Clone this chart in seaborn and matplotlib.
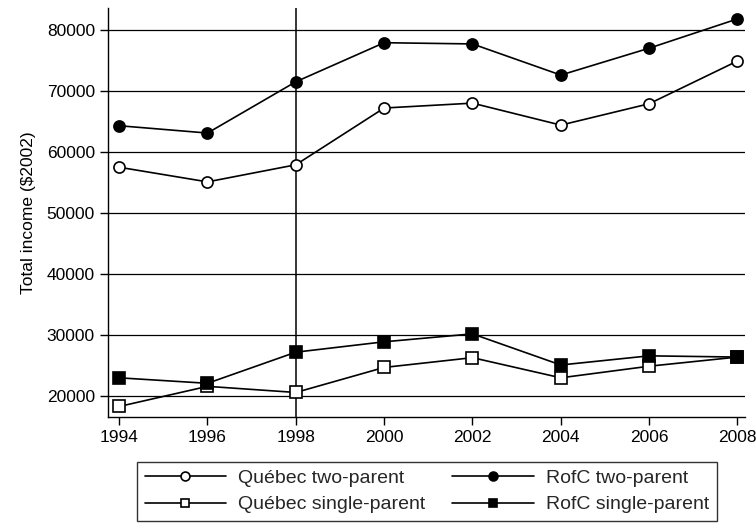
import numpy as np
import pandas as pd
import matplotlib
matplotlib.use("Agg")
import matplotlib.pyplot as plt
import seaborn as sns

# ------------------------------------------------------------------
#  DATA
# ------------------------------------------------------------------
years = [1994, 1996, 1998, 2000, 2002, 2004, 2006, 2008]
quebec_two    = [57500, 55100, 57900, 67200, 68000, 64400, 67900, 74900]
rofc_two      = [64300, 63100, 71500, 77900, 77700, 72600, 77000, 81800]
quebec_single = [18300, 21600, 20600, 24700, 26300, 23000, 24900, 26400]
rofc_single   = [23000, 22100, 27200, 28900, 30200, 25100, 26600, 26400]
y_ticks = [20000, 30000, 40000, 50000, 60000, 70000, 80000]

# ------------------------------------------------------------------
#  STYLE
# ------------------------------------------------------------------
sns.set_theme(style="white")
plt.rcParams["font.family"] = ["Liberation Sans", "DejaVu Sans"]
FS = 12.5

# order chosen so the 2-column legend reads row by row like the original
series = [
    ("Québec two-parent",    quebec_two,    "o", "white", 8),
    ("Québec single-parent", quebec_single, "s", "white", 8),
    ("RofC two-parent",      rofc_two,      "o", "black", 8),
    ("RofC single-parent",   rofc_single,   "s", "black", 8),
]

fig, ax = plt.subplots(figsize=(7.56, 5.28), dpi=100)
fig.subplots_adjust(left=0.143, right=0.986, top=0.985, bottom=0.21)

for y in y_ticks:
    ax.axhline(y, color="black", lw=0.9, zorder=0)
ax.axvline(1998, color="black", lw=1.1, zorder=1)

for label, vals, mk, face, ms in series:
    df = pd.DataFrame({"year": years, "income": vals})
    sns.lineplot(data=df, x="year", y="income", ax=ax, color="black",
                 lw=1.2, marker=mk, markersize=ms, markerfacecolor=face,
                 markeredgecolor="black", markeredgewidth=1.2,
                 label=label, zorder=3)

ax.set_xlim(1993.75, 2008.18)
ax.set_ylim(16560, 83600)
ax.set_xticks(years)
ax.set_yticks(y_ticks)
ax.tick_params(axis="both", direction="out", length=6, width=1,
               color="black", labelsize=FS, labelcolor="black",
               bottom=True, left=True)
ax.set_xlabel("")
ax.set_ylabel("Total income ($2002)", fontsize=FS, color="black",
              labelpad=8)
for s in ["top", "right"]:
    ax.spines[s].set_visible(False)
for s in ["left", "bottom"]:
    ax.spines[s].set_color("black")
    ax.spines[s].set_linewidth(1)

leg = ax.legend(loc="upper center", bbox_to_anchor=(0.5, -0.085), ncol=2,
                frameon=True, fancybox=False, fontsize=14,
                handlelength=4.2, columnspacing=1.4, borderpad=0.4,
                labelspacing=0.45, handletextpad=0.6, markerscale=0.8)
leg.get_frame().set_edgecolor("black")
leg.get_frame().set_linewidth(1)

plt.savefig("out.png", dpi=100)
plt.close()
